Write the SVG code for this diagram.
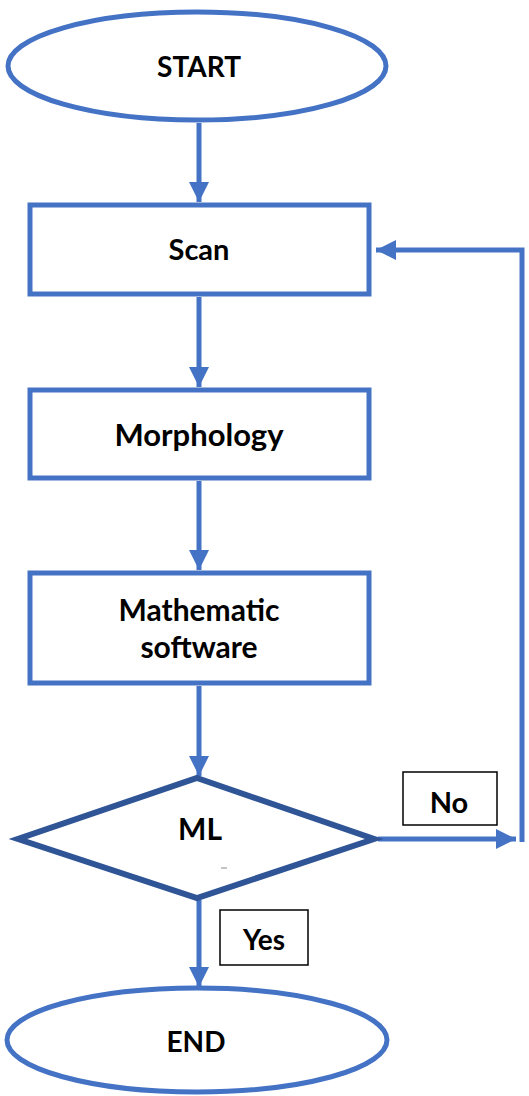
<svg xmlns="http://www.w3.org/2000/svg" width="529" height="1096" viewBox="0 0 529 1096">
<style>
.shape{fill:#fff;stroke:#4472C4;stroke-width:5}
.dia{fill:#fff;stroke:#2F5597;stroke-width:6;stroke-linejoin:miter}
.lbl{fill:#fff;stroke:#000;stroke-width:1.5}
.t{font-family:Lato,"Open Sans",sans-serif;font-weight:bold;font-size:28px;fill:#000;text-anchor:middle}
.big{font-size:31px}
.mid{font-size:30px}
.c{fill:none;stroke:#4472C4;stroke-width:5}
</style>
<defs>
<marker id="ah" viewBox="0 0 10 10" refX="10" refY="5" markerWidth="4" markerHeight="4" markerUnits="strokeWidth" orient="auto">
<path d="M0,0 L10,5 L0,10 z" fill="#4472C4"/>
</marker>
</defs>
<g id="connectors">
<line class="c" x1="199" y1="123" x2="199" y2="202" marker-end="url(#ah)"/>
<line class="c" x1="199" y1="297" x2="199" y2="387" marker-end="url(#ah)"/>
<line class="c" x1="199" y1="481" x2="199" y2="570" marker-end="url(#ah)"/>
<line class="c" x1="199" y1="686" x2="199" y2="776" marker-end="url(#ah)"/>
<line class="c" x1="199" y1="900" x2="199" y2="987" marker-end="url(#ah)"/>
<line class="c" x1="378" y1="839" x2="516" y2="839" marker-end="url(#ah)"/>
<polyline class="c" points="522,842 522,250 376,250" marker-end="url(#ah)"/>
</g>
<g id="start">
<ellipse class="shape" cx="197" cy="66" rx="189" ry="54"/>
<text class="t" x="199" y="77">START</text>
</g>
<g id="scan">
<rect class="shape" x="30" y="205" width="339" height="89"/>
<text class="t" x="199" y="260" style="font-size:29px">Scan</text>
</g>
<g id="morphology">
<rect class="shape" x="30" y="390" width="339" height="88"/>
<text class="t big" x="199" y="446">Morphology</text>
</g>
<g id="math">
<rect class="shape" x="30" y="573" width="339" height="110"/>
<text class="t mid" x="199" y="621">Mathematic</text>
<text class="t mid" x="199" y="658">software</text>
</g>
<g id="ml">
<polygon class="dia" points="197,778 374,839 197,898 18,839"/>
<text class="t mid" x="200" y="840">ML</text>
<line x1="221" y1="868" x2="227" y2="868" stroke="#888" stroke-width="1"/>
</g>
<g id="no">
<rect class="lbl" x="403" y="772" width="94" height="53"/>
<text class="t" x="449" y="813" style="font-size:29px">No</text>
</g>
<g id="yes">
<rect class="lbl" x="220" y="910" width="88" height="55"/>
<text class="t" x="264" y="950">Yes</text>
</g>
<g id="end">
<ellipse class="shape" cx="197" cy="1040" rx="190" ry="52"/>
<text class="t" x="196" y="1052">END</text>
</g>
</svg>
